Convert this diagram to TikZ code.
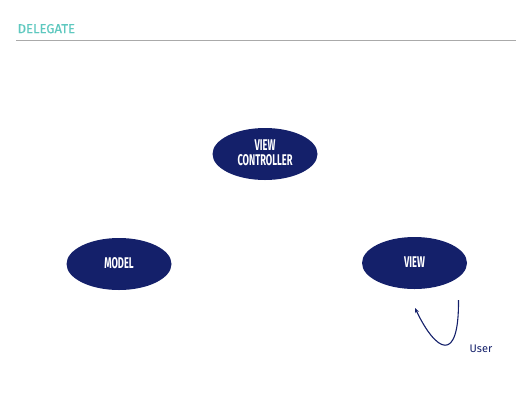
\documentclass[tikz,border=0pt]{standalone}
\usepackage{fontspec}
\setmainfont{Fira Sans}
\newfontfamily\titlefont[FakeBold=0.5]{Fira Sans}
\usetikzlibrary{shapes.geometric,arrows.meta}
\definecolor{navy}{HTML}{14206A}
\definecolor{teal}{HTML}{5EC8BF}
\definecolor{rulegray}{HTML}{AAAAAA}
\newcommand{\cond}[1]{\scalebox{0.6}[1]{#1}}
\tikzset{
  blob/.style={ellipse, fill=navy, draw=none, minimum width=105pt, minimum height=52pt, inner sep=0pt,
    text=white, font=\fontsize{15.5}{15}\selectfont\bfseries, align=center},
}
\begin{document}
\begin{tikzpicture}[x=1pt,y=-1pt]
\useasboundingbox (0,0) rectangle (532,400);
\node[anchor=west, text=teal, font=\titlefont\fontsize{13}{14}\selectfont, inner sep=0pt] (title) at (17.5,28.7) {DELEGATE};
\coordinate (rl) at (16,40.5);
\coordinate (rr) at (516,40.5);
\draw[rulegray, line width=0.8pt] (rl) -- (rr);
\node[blob] (vc) at (265,154) {\raisebox{3pt}{\cond{VIEW}}\\\raisebox{3pt}{\cond{CONTROLLER}}};
\node[blob] (model) at (119,264) {\raisebox{2.5pt}{\cond{MODEL}}};
\node[blob] (view) at (414.5,263) {\raisebox{2.5pt}{\cond{VIEW}}};
\coordinate (u1) at (458.5,300);
\coordinate (u2) at (415,308);
\draw[navy, line width=1.1pt, -{Stealth[length=5pt,width=4pt]}] (u1) .. controls (459,365) and (436,352) .. (u2);
\node[text=navy, font=\fontsize{11}{12}\selectfont, inner sep=0pt] (user) at (481,349) {User};
\end{tikzpicture}
\end{document}
